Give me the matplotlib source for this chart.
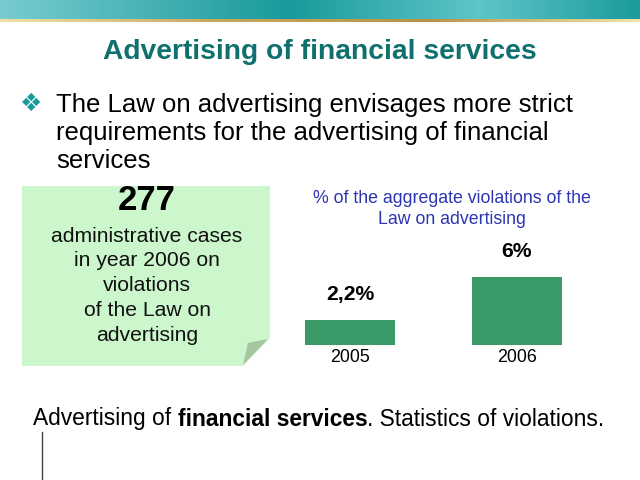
import numpy as np
import matplotlib
matplotlib.use("Agg")
import matplotlib.pyplot as plt
from matplotlib.colors import LinearSegmentedColormap
from matplotlib.patches import Polygon

# ---- data ----
years = ["2005", "2006"]
shares = [2.2, 6.0]
share_labels = ["2,2%", "6%"]
big_number = "277"
note_lines = ["administrative cases", "in year 2006 on", "violations", "of the Law on", "advertising"]
title = "Advertising of financial services"
bullet_lines = ["The Law on advertising envisages more strict",
                "requirements for the advertising of financial",
                "services"]
chart_title = "% of the aggregate violations of the\nLaw on advertising"

plt.rcParams['font.family'] = ['Liberation Sans', 'DejaVu Sans']

W, H = 640, 480
fig = plt.figure(figsize=(6.4, 4.8), dpi=100)
bg = fig.add_axes([0, 0, 1, 1])
bg.set_xlim(0, W)
bg.set_ylim(H, 0)
bg.axis('off')

# banner gradient
cmap = LinearSegmentedColormap.from_list("ban", [(0, "#78ccd0"), (0.45, "#199a9c"),
                                                   (0.75, "#5ec5c9"), (1.0, "#1b9b9d")])
grad = np.linspace(0, 1, 256)[None, :]
bg.imshow(grad, extent=[0, W, 19, 0], aspect='auto', cmap=cmap, zorder=1)
gcm = LinearSegmentedColormap.from_list("gold", ["#efe2a8", "#c8a860", "#b8924a", "#efe4a8"])
bg.imshow(grad, extent=[0, W, 22, 19], aspect='auto', cmap=gcm, zorder=1)
bg.set_xlim(0, W)
bg.set_ylim(H, 0)

# title
bg.text(320, 52, title, ha='center', va='center', fontsize=20.3, fontweight='bold', color='#10706e')

# bullet
bg.text(31, 104, "\u2756", ha='center', va='center', fontsize=18, color='#1a9a9a',
        family=['DejaVu Sans'])
for i, line in enumerate(bullet_lines):
    bg.text(56, 105 + i * 28, line, ha='left', va='center', fontsize=18.5, color='black')

# note box
note = Polygon([(22, 186), (270, 186), (270, 338), (243, 366), (22, 366)],
               closed=True, facecolor='#ccf6cc', edgecolor='none', zorder=2)
bg.add_patch(note)
fold = Polygon([(243, 365), (268, 339), (248, 343)], closed=True,
               facecolor='#a5c4a0', edgecolor='none', zorder=3)
bg.add_patch(fold)
bg.text(147, 201, big_number, ha='center', va='center', fontsize=25, fontweight='bold',
        color='black', zorder=4)
for i, line in enumerate(note_lines):
    bg.text(147, 236 + i * 24.8, line, ha='center', va='center', fontsize=15.2,
            color='#111111', zorder=4)

# chart title
bg.text(452, 209, chart_title, ha='center', va='center', fontsize=12.75, color='#2b35b0',
        linespacing=1.35)

# bottom caption
cap_y = 419
fs_cap = 16.4
t1 = bg.text(33, cap_y, "Advertising of ", ha='left', va='center', fontsize=fs_cap, color='black')
fig.canvas.draw()
r = fig.canvas.get_renderer()
inv = bg.transData.inverted()
def right_edge(t):
    bb = t.get_window_extent(renderer=r)
    return inv.transform((bb.x1, bb.y0))[0]
x2 = right_edge(t1)
t2 = bg.text(x2, cap_y, "financial services", ha='left', va='center', fontsize=fs_cap,
             fontweight='bold', color='black')
x3 = right_edge(t2)
bg.text(x3, cap_y, ". Statistics of violations.", ha='left', va='center', fontsize=fs_cap, color='black')

bg.plot([42, 42], [432, 479], color='#444444', lw=1)

# bar chart
px_left, px_right = 290, 580
px_bottom, px_top = 345, 245
unit_x = 166.5
c0 = 350
unit_y = 68 / 6.0
ax = fig.add_axes([px_left / W, (H - px_bottom) / H, (px_right - px_left) / W,
                   (px_bottom - px_top) / H])
ax.set_xlim((px_left - c0) / unit_x, (px_right - c0) / unit_x)
ax.set_ylim(0, (px_bottom - px_top) / unit_y)
xs = np.arange(len(years))
ax.bar(xs, shares, width=90 / unit_x, color='#3a9a68')
for x, v, lab in zip(xs, shares, share_labels):
    ax.annotate(lab, (x, v), xytext=(0, 16), textcoords='offset pixels', ha='center',
                va='bottom', fontsize=15.2, fontweight='bold')
ax.set_xticks(xs)
ax.set_xticklabels(years, fontsize=12.9)
ax.tick_params(axis='x', length=0, pad=3)
ax.set_yticks([])
for s in ax.spines.values():
    s.set_visible(False)
ax.patch.set_alpha(0)

fig.savefig("out.png", dpi=100)
